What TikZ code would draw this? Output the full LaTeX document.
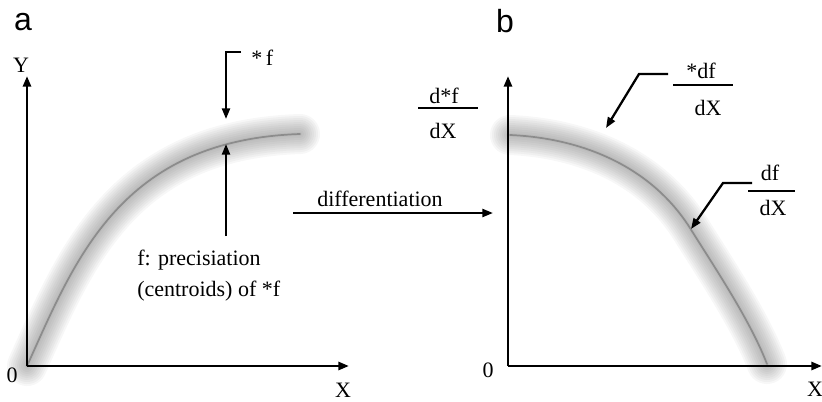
\documentclass[tikz,border=0pt]{standalone}
\usepackage{fontspec}
\setmainfont{Liberation Serif}
\newfontfamily\panelfont{Liberation Sans}
\usetikzlibrary{arrows.meta}
\begin{document}
\begin{tikzpicture}[x=0.75pt,y=-0.75pt,
  axis/.style={line width=2.2pt,-{Triangle[length=8pt,width=6pt]}},
  pointer/.style={line width=1.7pt,-{Triangle[length=8pt,width=6pt]}},
  glow/.style={line cap=round,line join=round,black!65,opacity=0.05},
  curveline/.style={line width=1.3pt,black!45,line cap=round},
  lbl/.style={inner sep=0pt,font=\fontsize{16.5}{19}\selectfont},
  panel/.style={inner sep=0pt,font=\panelfont\fontsize{24}{28}\selectfont},
  bar/.style={line width=1.7pt}]
\useasboundingbox (0,0) rectangle (822,401);

% ---------- panel a ----------
\node[panel] (pa) at (23,22) {a};
\coordinate (oa) at (27,366);
\coordinate (ya) at (27,76);
\coordinate (xa) at (349,366);
\foreach \w in {40,36,...,4}{
  \draw[glow,line width=\w*0.75pt] (27,366) .. controls (75,260) and (120,140) .. (300,134);
}
\draw[curveline] (27,366) .. controls (75,260) and (120,140) .. (300,134);
\draw[axis] (oa) -- (ya);
\draw[axis] (oa) -- (xa);
\node[lbl] (Ya) at (21,65) {Y};
\node[lbl] (Xa) at (343,390) {X};
\node[lbl] (Oa) at (12,375) {0};

\node[lbl,anchor=base west] (sf) at (251,65) {*\,f};
\coordinate (sf1) at (241,52);
\coordinate (sf2) at (226,52);
\coordinate (sftip) at (226,119);
\draw[pointer] (sf1) -- (sf2) -- (sftip);

\node[lbl,anchor=base west] (prec) at (137,265) {f: precisiation};
\node[lbl,anchor=base west] (cent) at (137,296) {(centroids) of *f};
\coordinate (fb) at (226,236);
\coordinate (ftip) at (226,144);
\draw[pointer] (fb) -- (ftip);

% ---------- differentiation ----------
\node[lbl,anchor=base] (diff) at (380,206) {differentiation};
\coordinate (d1) at (293,213);
\coordinate (d2) at (493,213);
\draw[pointer] (d1) -- (d2);

% ---------- panel b ----------
\node[panel] (pb) at (505,21) {b};
\coordinate (ob) at (508,366);
\coordinate (yb) at (508,76);
\coordinate (xb) at (822,366);
\foreach \w in {40,36,...,4}{
  \draw[glow,line width=\w*0.75pt] (510,135) .. controls (580,138) and (650,165) .. (690,228) .. controls (715,268) and (750,320) .. (767,364);
}
\draw[curveline] (510,135) .. controls (580,138) and (650,165) .. (690,228) .. controls (715,268) and (750,320) .. (767,364);
\draw[axis] (ob) -- (yb);
\draw[axis] (ob) -- (xb);
\node[lbl] (Ob) at (488,370) {0};
\node[lbl] (Xb) at (815,389) {X};

% d*f / dX
\node[lbl] (n1) at (444,96) {d*f};
\node[lbl] (m1) at (443,131) {dX};
\coordinate (b1l) at (418,108);
\coordinate (b1r) at (478,108);
\draw[bar] (b1l) -- (b1r);

% *df / dX
\node[lbl] (n2) at (701,71) {*df};
\node[lbl] (m2) at (708,108) {dX};
\coordinate (b2l) at (673,85);
\coordinate (b2r) at (733,85);
\draw[bar] (b2l) -- (b2r);
\coordinate (p2a) at (668,74);
\coordinate (p2b) at (639,74);
\coordinate (p2tip) at (606,128);
\draw[pointer] (p2a) -- (p2b) -- (p2tip);

% df / dX
\node[lbl] (n3) at (770,173) {df};
\node[lbl] (m3) at (773,208) {dX};
\coordinate (b3l) at (748,191);
\coordinate (b3r) at (795,191);
\draw[bar] (b3l) -- (b3r);
\coordinate (p3a) at (752,183);
\coordinate (p3b) at (723,183);
\coordinate (p3tip) at (691,229);
\draw[pointer] (p3a) -- (p3b) -- (p3tip);
\end{tikzpicture}
\end{document}
